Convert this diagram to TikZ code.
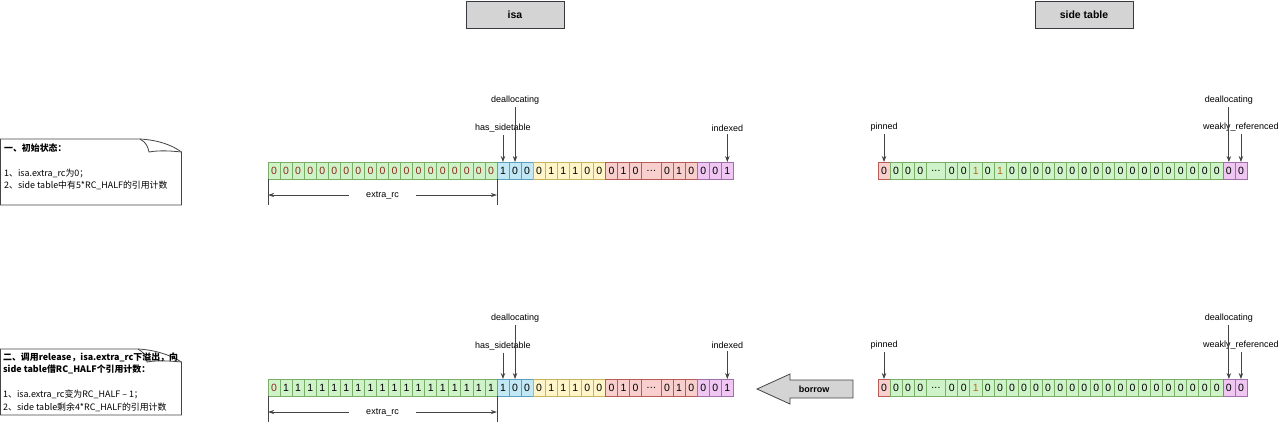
\documentclass[tikz,border=0pt]{standalone}
\usepackage{fontspec}
\setmainfont{Liberation Sans}
\newfontfamily\cjk{Noto Sans CJK SC}
\usetikzlibrary{arrows.meta,calc}
\definecolor{gfill}{HTML}{CFF3C9}
\definecolor{gline}{HTML}{7AAD66}
\definecolor{cfill}{HTML}{C3E8F5}
\definecolor{cline}{HTML}{5AA0BE}
\definecolor{yfill}{HTML}{FFF5C8}
\definecolor{yline}{HTML}{C8B45A}
\definecolor{rfill}{HTML}{F8CFCD}
\definecolor{rline}{HTML}{B85C58}
\definecolor{pfill}{HTML}{EFC7F2}
\definecolor{pline}{HTML}{A070A8}
\definecolor{digred}{HTML}{8E2A1C}
\definecolor{digorange}{HTML}{B86A1A}
\definecolor{arrowc}{HTML}{444444}
\definecolor{hdrfill}{HTML}{D4D4D4}
\definecolor{hdrline}{HTML}{36393D}
\newcommand\threedots{.\kern0.3pt.\kern0.3pt.}
\newcommand\cellrow[3]{%
  \node[inner sep=0pt,outer sep=0pt,minimum size=0pt] (#1-0) at #2 {};
  \foreach \s/\d [count=\i from 1, evaluate=\i as \j using int(\i-1)] in {#3} {
    \node[cell,\s,anchor=west] (#1-\i) at (#1-\j.east) {\d};
  }%
}
\begin{document}
\begin{tikzpicture}[x=1pt,y=-1pt,
  lbl/.style={font=\fontsize{9}{10}\selectfont, inner sep=2.5pt},
  ann/.style={draw=arrowc, line width=0.8pt, -{Stealth[length=6pt,width=4.5pt]}},
  dim/.style={draw=arrowc, line width=0.6pt, -{Stealth[length=6pt,width=4pt]}},
  tick/.style={draw=arrowc, line width=0.6pt},
  cell/.style={draw, minimum width=12.05pt, minimum height=17pt, inner sep=0pt, outer sep=0pt, line width=0.7pt, font=\fontsize{10.5}{12}\selectfont},
  cg/.style={fill=gfill, draw=gline},
  cgr/.style={cg, text=digred},
  cgo/.style={cg, text=digorange},
  cgw/.style={cg, minimum width=19.5pt},
  cc/.style={fill=cfill, draw=cline},
  cy/.style={fill=yfill, draw=yline},
  cr/.style={fill=rfill, draw=rline},
  crw/.style={cr, minimum width=19.5pt},
  cp/.style={fill=pfill, draw=pline},
  hdr/.style={draw=hdrline, fill=hdrfill, line width=0.8pt, minimum width=98pt, minimum height=27pt, font=\bfseries\fontsize{10.5}{12}\selectfont},
  notes/.style={draw=arrowc, line width=0.8pt, fill=white},
  notet/.style={anchor=west, inner sep=0pt, font=\cjk\fontsize{8.9}{10}\selectfont},
  noteb/.style={notet, font=\cjk\bfseries\fontsize{8.9}{10}\selectfont},
]
\useasboundingbox (0,0) rectangle (1280,424);

% headers
\node[hdr] (hisa) at (515,14.5) {isa};
\node[hdr] (hst) at (1084,14.5) {side table};

% notes
\draw[notes] (0.5,139) -- (140,139) .. controls (158,140) and (172,145) .. (181.5,152) -- (181.5,205) -- (0.5,205) -- cycle;
\draw[notes] (140,139) .. controls (146,142) and (148,147) .. (149,152) .. controls (160,150) and (172,151) .. (181.5,152);
\node[noteb] (n1a) at (4,148) {一、初始状态：};
\node[notet] (n1b) at (4,173) {1、isa.extra\_rc为0；};
\node[notet] (n1c) at (4,185) {2、side table中有5*RC\_HALF的引用计数};

\draw[notes] (0.5,349) -- (138,349) .. controls (156,350) and (170,355) .. (181.5,362) -- (181.5,415) -- (0.5,415) -- cycle;
\draw[notes] (138,349) .. controls (144,352) and (146,357) .. (147,362) .. controls (158,360) and (170,361) .. (181.5,362);
\node[noteb] (n2a) at (3,357) {二、调用release，isa.extra\_rc下溢出，向};
\node[noteb] (n2b) at (3,369) {side table借RC\_HALF个引用计数：};
\node[notet] (n2c) at (3,394) {1、isa.extra\_rc变为RC\_HALF – 1；};
\node[notet] (n2d) at (3,407) {2、side table剩余4*RC\_HALF的引用计数};

% isa rows
\cellrow{a}{(268,170.5)}{cgr/0,cgr/0,cgr/0,cgr/0,cgr/0,cgr/0,cgr/0,cgr/0,cgr/0,cgr/0,cgr/0,cgr/0,cgr/0,cgr/0,cgr/0,cgr/0,cgr/0,cgr/0,cgr/0,cc/1,cc/0,cc/0,cy/0,cy/1,cy/1,cy/1,cy/0,cy/0,cr/0,cr/1,cr/0,crw/\threedots,cr/0,cr/1,cr/0,cp/0,cp/0,cp/1}
\cellrow{b}{(268,387.5)}{cgr/0,cg/1,cg/1,cg/1,cg/1,cg/1,cg/1,cg/1,cg/1,cg/1,cg/1,cg/1,cg/1,cg/1,cg/1,cg/1,cg/1,cg/1,cg/1,cc/1,cc/0,cc/0,cy/0,cy/1,cy/1,cy/1,cy/0,cy/0,cr/0,cr/1,cr/0,crw/\threedots,cr/0,cr/1,cr/0,cp/0,cp/0,cp/1}

% side table rows
\cellrow{s}{(878,170.5)}{cr/0,cg/0,cg/0,cg/0,cgw/\threedots,cg/0,cg/0,cgo/1,cg/0,cgo/1,cg/0,cg/0,cg/0,cg/0,cg/0,cg/0,cg/0,cg/0,cg/0,cg/0,cg/0,cg/0,cg/0,cg/0,cg/0,cg/0,cg/0,cg/0,cp/0,cp/0}
\cellrow{t}{(878,387.5)}{cr/0,cg/0,cg/0,cg/0,cgw/\threedots,cg/0,cg/0,cgo/1,cg/0,cg/0,cg/0,cg/0,cg/0,cg/0,cg/0,cg/0,cg/0,cg/0,cg/0,cg/0,cg/0,cg/0,cg/0,cg/0,cg/0,cg/0,cg/0,cg/0,cp/0,cp/0}

% isa annotations (top)
\path (a-20.north) ++(0,-34) node[lbl] (ahs) {has\_sidetable};
\path (a-21.north) ++(0,-62) node[lbl] (ade) {deallocating};
\path (a-38.north) ++(0,-34) node[lbl] (ain) {indexed};
\draw[ann] (ahs.south) -- (a-20.north);
\draw[ann] (ade.south) -- (a-21.north);
\draw[ann] (ain.south) -- (a-38.north);

% isa annotations (bottom)
\path (b-20.north) ++(0,-33) node[lbl] (bhs) {has\_sidetable};
\path (b-21.north) ++(0,-61) node[lbl] (bde) {deallocating};
\path (b-38.north) ++(0,-34) node[lbl] (bin) {indexed};
\draw[ann] (bhs.south) -- (b-20.north);
\draw[ann] (bde.south) -- (b-21.north);
\draw[ann] (bin.south) -- (b-38.north);

% side table annotations
\path (s-1.north) ++(0,-35) node[lbl] (spi) {pinned};
\path (s-29.north) ++(0,-62) node[lbl] (sde) {deallocating};
\path (s-30.north) ++(0,-35) node[lbl] (swr) {weakly\_referenced};
\draw[ann] (spi.south) -- (s-1.north);
\draw[ann] (sde.south) -- (s-29.north);
\draw[ann] (swr.south) -- (s-30.north);

\path (t-1.north) ++(0,-34) node[lbl] (tpi) {pinned};
\path (t-29.north) ++(0,-61) node[lbl] (tde) {deallocating};
\path (t-30.north) ++(0,-34) node[lbl] (twr) {weakly\_referenced};
\draw[ann] (tpi.south) -- (t-1.north);
\draw[ann] (tde.south) -- (t-29.north);
\draw[ann] (twr.south) -- (t-30.north);

% extra_rc dimension lines
\node[lbl, inner xsep=17pt] (ea) at (382.5,195) {extra\_rc};
\draw[tick] (a-1.south west) -- ++(0,26);
\draw[tick] (a-19.south east) -- ++(0,26);
\draw[dim] (ea.west) -- (ea.west -| a-1.south west);
\draw[dim] (ea.east) -- (ea.east -| a-19.south east);

\node[lbl, inner xsep=17pt] (eb) at (382.5,412) {extra\_rc};
\draw[tick] (b-1.south west) -- ++(0,26);
\draw[tick] (b-19.south east) -- ++(0,26);
\draw[dim] (eb.west) -- (eb.west -| b-1.south west);
\draw[dim] (eb.east) -- (eb.east -| b-19.south east);

% borrow arrow
\draw[draw=arrowc, fill=hdrfill, line width=0.8pt] (853,380) -- (790,380) -- (790,374) -- (757,389) -- (790,404) -- (790,398) -- (853,398) -- cycle;
\node[font=\bfseries\fontsize{9}{10}\selectfont] (bor) at (814,389) {borrow};
\end{tikzpicture}
\end{document}
